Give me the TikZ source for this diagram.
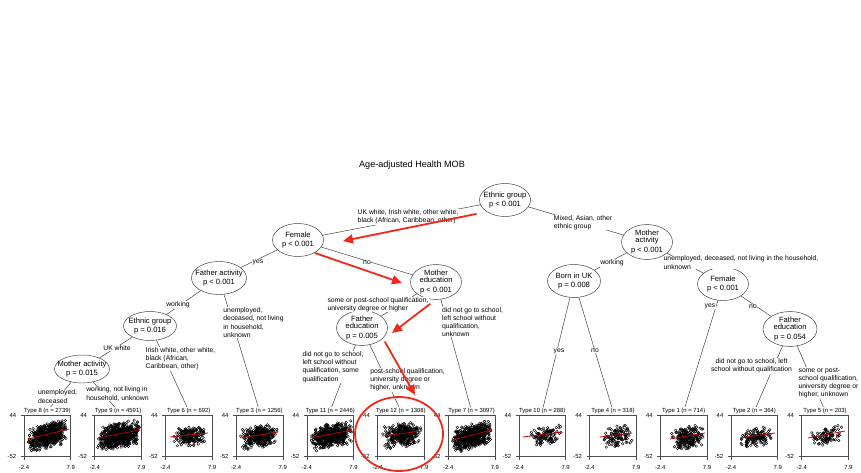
\documentclass[tikz,border=0pt]{standalone}
\usepackage{fontspec}
\setmainfont{Liberation Sans}
\usetikzlibrary{shapes.geometric, positioning, arrows.meta}

\definecolor{annored}{RGB}{240,40,25}
\definecolor{fitred}{RGB}{190,0,0}

\tikzset{
  splitnode/.style={ellipse, draw=black!80, line width=0.45pt, inner xsep=-8pt, inner ysep=0pt,
    minimum width=51pt, minimum height=33pt, align=center, font=\fontsize{7.6}{7.8}\selectfont},
  cutlabel/.style={fill=white, inner sep=0.4pt, align=left, font=\fontsize{6.8}{8.2}\selectfont},
  termtitle/.style={inner sep=1pt, font=\fontsize{5.9}{7}\selectfont},
  ticklabel/.style={inner sep=0pt, font=\fontsize{5.9}{7}\selectfont},
  branch/.style={draw=black!80, line width=0.45pt},
  panelframe/.style={draw=black!70, line width=0.45pt},
  obs/.style={draw=black, line width=0.4pt},
  fitline/.style={draw=fitred, line width=0.8pt},
  annot/.style={draw=annored, line width=1.8pt, line cap=round},
  annotarrow/.style={annot, -{Triangle[length=10pt, width=9pt]}}
}

\newcommand{\termpanel}[8]{%
  \node[termtitle] (#1) at (#2+23.35,411) {#3};
  \pgfmathsetseed{#4}
  \foreach \xa/\ya/\xb/\yb in {#8}{
    \foreach \k in {1,...,#4}{
      \pgfmathsetmacro\px{#5+(#6-#5)*(0.5+0.3*rand+0.2*rand)}
      \pgfmathsetmacro\py{\ya+(\yb-\ya)*(\px-\xa)/(\xb-\xa)+1.5+#7*(rand+rand)/2}
      \draw[obs] (\px,\py) circle (1.3pt);
    }
    \draw[fitline] (\xa,\ya) -- (\xb,\yb);
  }
  \draw[panelframe] (#2,415.5) rectangle (#2+46.7,456.7);
  \draw[panelframe] (#2,415.5) -- ++(-3,0) (#2,456.7) -- ++(-3,0)
    (#2,456.7) -- ++(0,3) (#2+46.7,456.7) -- ++(0,3);
  \node[ticklabel] (#1y1) at (#2-11,415.5) {44};
  \node[ticklabel] (#1y2) at (#2-12,456.7) {-52};
  \node[ticklabel] (#1x1) at (#2,467.5) {-2.4};
  \node[ticklabel] (#1x2) at (#2+46.7,467.5) {7.9};
}

\begin{document}
\begin{tikzpicture}[x=1pt, y=-1pt]
        \path[use as bounding box] (0,0) rectangle (861,473);

        \node[font=\fontsize{9.1}{10}\selectfont] (title) at (412,165) {Age-adjusted Health MOB};

        \termpanel{t8}{24.0}{Type 8 (n = 2739)}{600}{27}{68}{13}{28/439/69/429}
        \termpanel{t9}{94.7}{Type 9 (n = 4591)}{800}{97}{140}{13}{98/438/140/430}
        \termpanel{t6}{165.4}{Type 6 (n = 692)}{200}{173}{208}{10}{170/437/208/433}
        \termpanel{t3}{236.1}{Type 3 (n = 1256)}{350}{240}{278}{12}{240/438/278/432}
        \termpanel{t11}{306.8}{Type 11 (n = 2446)}{550}{310}{352}{13}{310/438/352/430}
        \termpanel{t12}{377.5}{Type 12 (n = 1308)}{350}{382}{422}{13}{382/436/422/431}
        \termpanel{t7}{448.2}{Type 7 (n = 3097)}{650}{452}{492}{13}{452/440/492/430}
        \termpanel{t10}{518.9}{Type 10 (n = 288)}{110}{530}{562}{10}{523/437/562/432}
        \termpanel{t4}{589.6}{Type 4 (n = 318)}{120}{602}{632}{11}{600/437/632/433}
        \termpanel{t1}{660.3}{Type 1 (n = 714)}{220}{670}{705}{12}{670/439/705/433}
        \termpanel{t2}{731.0}{Type 2 (n = 364)}{140}{740}{772}{10}{740/438/775/433}
        \termpanel{t5}{801.7}{Type 5 (n = 203)}{90}{810}{845}{10}{808/438/845/431}

        \node[splitnode] (eg1) at (505,200) {Ethnic group\\[2pt]p < 0.001};
        \node[splitnode] (fem1) at (298,240) {Female\\[2pt]p < 0.001};
        \node[splitnode] (med) at (436,282) {Mother\\education\\[2pt]p < 0.001};
        \node[splitnode] (fed1) at (362,328) {Father\\education\\[2pt]p = 0.005};
        \node[splitnode, minimum width=55pt] (fact) at (219,278) {Father activity\\[2pt]p < 0.001};
        \node[splitnode, minimum width=53pt, minimum height=29pt] (eg2) at (150,326) {Ethnic group\\[2pt]p = 0.016};
        \node[splitnode, minimum width=55pt, minimum height=28pt] (mact1) at (82,369) {Mother activity\\[2pt]p = 0.015};
        \node[splitnode] (mact2) at (647,242) {Mother\\activity\\[2pt]p < 0.001};
        \node[splitnode, minimum width=53pt] (buk) at (574,281) {Born in UK\\[2pt]p = 0.008};
        \node[splitnode] (fem2) at (723,284) {Female\\[2pt]p < 0.001};
        \node[splitnode, minimum width=54pt] (fed2) at (790,329) {Father\\education\\[2pt]p = 0.054};

        \draw[branch] (eg1) -- (fem1);
        \draw[branch] (eg1) -- (mact2);
        \draw[branch] (fem1) -- (fact);
        \draw[branch] (fem1) -- (med);
        \draw[branch] (fact) -- (eg2);
        \draw[branch] (fact) -- (t3);
        \draw[branch] (eg2) -- (mact1);
        \draw[branch] (eg2) -- (t6);
        \draw[branch] (mact1) -- (t8);
        \draw[branch] (mact1) -- (t9);
        \draw[branch] (med) -- (fed1);
        \draw[branch] (med) -- (t7);
        \draw[branch] (fed1) -- (t11);
        \draw[branch] (fed1) -- (t12);
        \draw[branch] (mact2) -- (buk);
        \draw[branch] (mact2) -- (fem2);
        \draw[branch] (buk) -- (t10);
        \draw[branch] (buk) -- (t4);
        \draw[branch] (fem2) -- (t1);
        \draw[branch] (fem2) -- (fed2);
        \draw[branch] (fed2) -- (t2);
        \draw[branch] (fed2) -- (t5);

        \node[cutlabel] (lb1) at (408,217) {UK white, Irish white, other white,\\black (African, Caribbean, other)};
        \node[cutlabel] (lb2) at (583,222.5) {Mixed, Asian, other\\ethnic group};
        \node[cutlabel] (lb3) at (258,262) {yes};
        \node[cutlabel] (lb4) at (367,263) {no};
        \node[cutlabel] (lb5) at (178,305) {working};
        \node[cutlabel] (lb6) at (253.5,322.5) {unemployed,\\deceased, not living\\in household,\\unknown};
        \node[cutlabel] (lb7) at (117,348) {UK white};
        \node[cutlabel] (lb8) at (180.5,359) {Irish white, other white,\\black (African,\\Caribbean, other)};
        \node[cutlabel] (lb9) at (57.5,396.5) {unemployed,\\deceased};
        \node[cutlabel] (lb10) at (117.5,394) {working, not living in\\household, unknown};
        \node[cutlabel] (lb11) at (378,304.5) {some or post-school qualification,\\university degree or higher};
        \node[cutlabel] (lb12) at (472.5,322) {did not go to school,\\left school without\\qualification,\\unknown};
        \node[cutlabel] (lb13) at (333,367) {did not go to school,\\left school without\\qualification, some\\qualification};
        \node[cutlabel] (lb14) at (407.5,380) {post-school qualification,\\university degree or\\higher, unknown};
        \node[cutlabel] (lb15) at (612,263) {working};
        \node[cutlabel] (lb16) at (741,262.5) {unemployed, deceased, not living in the household,\\unknown};
        \node[cutlabel] (lb17) at (559,351) {yes};
        \node[cutlabel] (lb18) at (595,351) {no};
        \node[cutlabel] (lb19) at (710,306) {yes};
        \node[cutlabel] (lb20) at (753,307) {no};
        \node[cutlabel, align=center] (lb21) at (751.5,366) {did not go to school, left\\school without qualification};
        \node[cutlabel] (lb22) at (828.5,383) {some or post-\\school qualification,\\university degree or\\higher, unknown};

        \coordinate (r1a) at (476,214);
        \coordinate (r1b) at (343,241);
        \coordinate (r2a) at (315,253);
        \coordinate (r2b) at (402,283);
        \coordinate (r3a) at (430,304);
        \coordinate (r3b) at (392,333);
        \coordinate (r4a) at (385,342);
        \coordinate (r4b) at (415,395);

        \draw[annotarrow] (r1a) -- (r1b);
        \draw[annotarrow] (r2a) -- (r2b);
        \draw[annotarrow] (r3a) -- (r3b);
        \draw[annotarrow] (r4a) -- (r4b);

        \node[annot, ellipse, minimum width=88pt, minimum height=74pt] (focus) at (399,434) {};
\end{tikzpicture}
\end{document}
